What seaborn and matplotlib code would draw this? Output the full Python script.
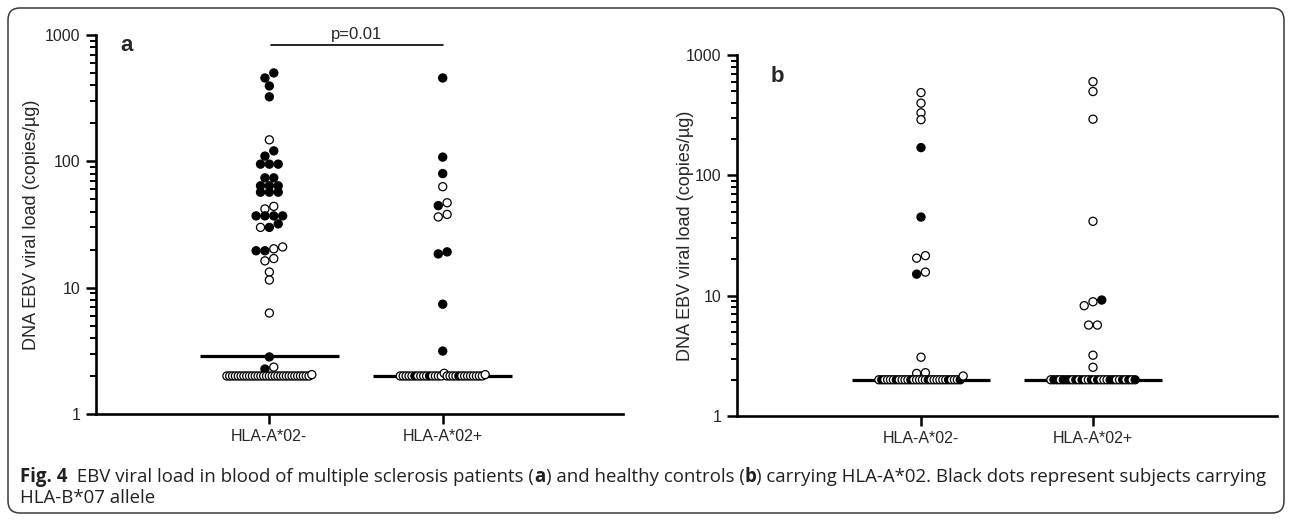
import numpy as np
import pandas as pd
import matplotlib
matplotlib.use("Agg")
import matplotlib.pyplot as plt
import matplotlib.transforms as mtransforms
from matplotlib import font_manager
from matplotlib.patches import FancyBboxPatch
from matplotlib.ticker import FixedLocator, LogLocator, NullFormatter
import seaborn as sns

# ---------------- data ----------------
groups = ["HLA-A*02-", "HLA-A*02+"]

# panel a: multiple sclerosis patients
a_neg_values = [457, 501, 395, 324, 148, 110, 121, 95, 95, 95, 74, 74, 64, 64, 64,
                57, 57, 57, 42, 44, 37, 37, 37, 37, 30, 30, 32, 19.6, 19.6, 20.3, 21,
                16.3, 17, 13.3, 11.5, 6.3, 2.83, 2.27, 2.35,
                2, 2, 2, 2, 2, 2, 2, 2, 2, 2, 2, 2, 2, 2, 2, 2, 2, 2, 2, 2, 2, 2, 2, 2,
                2, 2, 2, 2, 2, 2, 2.05]
a_neg_b07 = [1, 1, 1, 1, 0, 1, 1, 1, 1, 1, 1, 1, 1, 1, 1,
             1, 1, 1, 0, 0, 1, 1, 1, 1, 0, 1, 1, 1, 1, 0, 0,
             0, 0, 0, 0, 0, 1, 1, 0,
             0, 0, 0, 0, 0, 0, 0, 0, 0, 0, 0, 0, 0, 0, 0, 0, 0, 0, 0, 0, 0, 0, 0, 0,
             0, 0, 0, 0, 0, 0, 0]

a_pos_values = [457, 108, 80, 63, 44.6, 47, 36.3, 38, 18.5, 19.2, 7.4, 3.15,
                2, 2, 2, 2, 2, 2, 2, 2, 2, 2, 2, 2, 2, 2, 2, 2.1,
                2, 2, 2, 2, 2, 2, 2, 2, 2, 2, 2, 2, 2, 2.05]
a_pos_b07 = [1, 1, 1, 0, 1, 0, 0, 0, 1, 1, 1, 1,
             0, 0, 0, 0, 0, 1, 0, 0, 0, 0, 1, 0, 0, 0, 0, 0,
             0, 0, 0, 0, 1, 0, 0, 0, 0, 0, 0, 0, 0, 0]

# panel b: healthy controls
b_neg_values = [487, 398, 331, 290, 170, 45, 20.5, 21.5, 15.1, 15.7, 3.08, 2.26, 2.29,
                2, 2, 2, 2, 2, 2, 2, 2, 2, 2, 2, 2, 2, 2, 2, 2, 2, 2, 2, 2, 2, 2, 2, 2,
                2, 2, 2, 2, 2, 2.15]
b_neg_b07 = [0, 0, 0, 0, 1, 1, 0, 0, 1, 0, 0, 0, 0,
             0, 1, 0, 0, 0, 0, 1, 0, 0, 0, 0, 1, 0, 0, 0, 0, 0, 1, 0, 0, 0, 0, 0, 0,
             1, 0, 0, 0, 1, 0]

b_pos_values = [600, 497, 293, 41.5, 8.26, 8.9, 9.2, 5.7, 5.7, 3.2, 2.54,
                2, 2, 2, 2, 2, 2, 2, 2, 2, 2, 2, 2, 2, 2, 2, 2, 2, 2, 2, 2, 2, 2, 2, 2,
                2, 2, 2, 2]
b_pos_b07 = [0, 0, 0, 0, 0, 0, 1, 0, 0, 0, 0,
             0, 1, 1, 0, 1, 1, 1, 0, 1, 0, 1, 0, 0, 1, 0, 1, 0, 0, 0, 1, 1, 0, 0, 1,
             0, 1, 0, 1]

a_medians = [2.9, 2.0]
b_medians = [2.0, 2.0]
pvalue_label = "p=0.01"
pvalue_height = 830

ylabel = "DNA EBV viral load (copies/\u00b5g)"
ytick_values = [1, 10, 100, 1000]
ytick_labels = ["1", "10", "100", "1000"]

# ---------------- style ----------------
sns.set_style("white")
plt.rcParams["font.family"] = ["Liberation Sans", "DejaVu Sans"]

W, H = 1292, 520
fig = plt.figure(figsize=(W / 100, H / 100), dpi=100)


def fx(px):
    return px / W


def fy(py):
    return 1 - py / H


ax_a = fig.add_axes([fx(96), fy(414), fx(623 - 96), (414 - 35) / H])
ax_b = fig.add_axes([fx(737), fy(416), fx(1277 - 737), (416 - 55) / H])


def swarm_offsets(values, tol=0.048, step=0.051, maxw=0.49):
    logs = np.log10(np.asarray(values, dtype=float))
    rows, cur = [], [0]
    for i in range(1, len(logs)):
        if abs(logs[i] - logs[cur[0]]) <= tol:
            cur.append(i)
        else:
            rows.append(cur)
            cur = [i]
    rows.append(cur)
    off = np.zeros(len(logs))
    for r in rows:
        k = len(r)
        s = step if k < 2 else min(step, maxw / (k - 1))
        for j, i in enumerate(r):
            off[i] = (j - (k - 1) / 2) * s
    return off


def build_frame(series):
    frames = []
    for gi, (vals, flags) in enumerate(series):
        off = swarm_offsets(vals)
        frames.append(pd.DataFrame({"x": gi + off, "value": vals,
                                    "b07": ["yes" if f else "no" for f in flags],
                                    "group": groups[gi]}))
    return pd.concat(frames, ignore_index=True)


def draw_panel(ax, df, medians, xlim, label, label_pos):
    sns.scatterplot(data=df, x="x", y="value", hue="b07",
                    palette={"yes": "black", "no": "white"},
                    edgecolor="black", linewidth=0.9, s=34, legend=False,
                    ax=ax, zorder=3, clip_on=False)
    for gi, m in enumerate(medians):
        ax.hlines(m, gi - 0.4, gi + 0.4, color="black", lw=2.3, zorder=2)
    ax.set_yscale("log")
    ax.set_ylim(1, 1000)
    ax.set_xlim(*xlim)
    ax.set_xticks(range(len(groups)))
    ax.set_xticklabels(groups, fontsize=11.5)
    ax.yaxis.set_major_locator(FixedLocator(ytick_values))
    ax.set_yticklabels(ytick_labels, fontsize=11.5)
    ax.yaxis.set_minor_locator(LogLocator(base=10, subs=np.arange(2, 10)))
    ax.yaxis.set_minor_formatter(NullFormatter())
    ax.tick_params(axis="both", which="major", direction="out", length=7,
                   width=1.8, color="black", pad=4, left=True, bottom=True)
    ax.tick_params(axis="y", which="minor", direction="out", length=4,
                   width=1.4, color="black", left=True)
    for side in ["top", "right"]:
        ax.spines[side].set_visible(False)
    for side in ["left", "bottom"]:
        ax.spines[side].set_linewidth(1.9)
        ax.spines[side].set_color("black")
    ax.set_xlabel("")
    ax.set_ylabel(ylabel, fontsize=13)
    ax.text(label_pos[0], label_pos[1], label, transform=ax.transAxes,
            fontsize=16, fontweight="bold", ha="center", va="center")
    ax.set_facecolor("none")


df_a = build_frame([(a_neg_values, a_neg_b07), (a_pos_values, a_pos_b07)])
df_b = build_frame([(b_neg_values, b_neg_b07), (b_pos_values, b_pos_b07)])

draw_panel(ax_a, df_a, a_medians, (-1.0, 2.04), "a", (0.058, 0.972))
draw_panel(ax_b, df_b, b_medians, (-1.07, 2.07), "b", (0.074, 0.94))
ax_a.yaxis.set_label_coords(-0.106, 0.5)
ax_b.yaxis.set_label_coords(-0.080, 0.5)

# significance bracket
ax_a.plot([0.01, 1.0], [pvalue_height, pvalue_height], color="black", lw=1.2,
          clip_on=False)
ax_a.text(0.505, pvalue_height * 1.06, pvalue_label, ha="center", va="bottom",
          fontsize=12, clip_on=False)

# rounded frame
frame = FancyBboxPatch((8, 7), 1276, 505,
                       boxstyle="round,pad=0,rounding_size=12",
                       transform=mtransforms.IdentityTransform(),
                       fill=False, lw=1.1, ec="#3a3a3a")
fig.patches.append(frame)

# caption
names = {f.name for f in font_manager.fontManager.ttflist}
cap_font = "Liberation Sans Narrow" if "Liberation Sans Narrow" in names else "Open Sans"
line1 = [("Fig. 4", "bold"),
         ("  EBV viral load in blood of multiple sclerosis patients (", "normal"),
         ("a", "bold"), (") and healthy controls (", "normal"), ("b", "bold"),
         (") carrying HLA-A*02. Black dots represent subjects carrying", "normal")]
line2 = [("HLA-B*07 allele", "normal")]

renderer = fig.canvas.get_renderer()


def draw_line(segs, x0, y, size):
    x = x0
    texts = []
    for s, w in segs:
        t = fig.text(x / W, y, s, fontsize=size, fontweight=w, family=cap_font,
                     ha="left", va="center", color="#231f20")
        bb = t.get_window_extent(renderer)
        x += bb.width
        texts.append(t)
    return x, texts


# fit caption width to the frame
end, ts = draw_line(line1, 20, fy(477), 10)
for t in ts:
    t.remove()
size = 10 * (1262 - 20) / (end - 20)
draw_line(line1, 20, fy(477), size)
draw_line(line2, 20, fy(498), size)

fig.savefig("out.png", dpi=100)
